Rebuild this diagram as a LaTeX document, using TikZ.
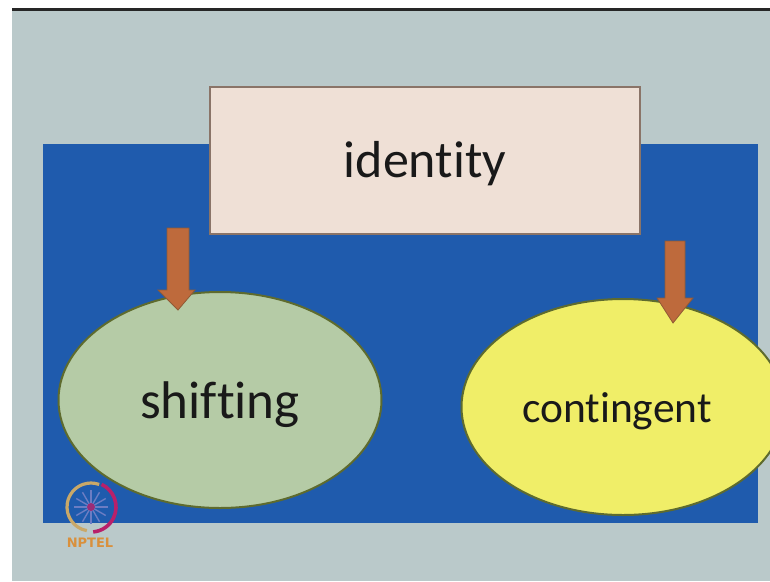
\documentclass[tikz,border=0pt]{standalone}
\usepackage{fontspec}
\setmainfont[Ligatures=NoCommon]{Carlito}
\newfontfamily\logofont{DejaVu Sans}
\usetikzlibrary{shapes.geometric}
\definecolor{slidebg}{HTML}{BAC9CA}
\definecolor{panel}{HTML}{1F5BAD}
\definecolor{boxfill}{HTML}{EFE0D6}
\definecolor{boxline}{HTML}{8A7468}
\definecolor{greenfill}{HTML}{B5CBA6}
\definecolor{yellowfill}{HTML}{F0EE68}
\definecolor{ovalline}{HTML}{5E6B2E}
\definecolor{arrowfill}{HTML}{BE6A3C}
\definecolor{arrowline}{HTML}{8F5A35}
\definecolor{logoorange}{HTML}{D9903C}
\definecolor{logopink}{HTML}{B8206A}
\definecolor{logotan}{HTML}{C9A868}
\definecolor{logospoke}{HTML}{7F86C8}
\tikzset{
  oval/.style={ellipse,draw=ovalline,line width=2pt,inner sep=0pt,text=black!90},
  blockarrow/.style={fill=arrowfill,draw=arrowline,line width=0.8pt,line join=miter},
}
\begin{document}
\begin{tikzpicture}[x=1pt,y=-1pt]
\useasboundingbox (0,0) rectangle (770,581);
\fill[white] (0,0) rectangle (770,581);
\fill[slidebg] (12,10) rectangle (770,581);
\fill[black!85] (12,8) rectangle (770,11);
\fill[panel] (43,144) rectangle (758,523);
\node[draw=boxline,fill=boxfill,line width=1.6pt,minimum width=430pt,minimum height=147pt,inner sep=0pt,font=\fontsize{52}{56}\selectfont,text=black!90] (identity) at (425,160.5) {\raisebox{-16.5pt}[0pt][0pt]{identity}};
\node[oval,fill=greenfill,minimum width=323pt,minimum height=216pt,font=\fontsize{53}{56}\selectfont] (shifting) at (220,400) {\raisebox{-18pt}[0pt][0pt]{shifting}};
\node[oval,fill=yellowfill,minimum width=323pt,minimum height=216pt,font=\fontsize{43.5}{46}\selectfont] (contingent) at (623,407) {\hspace*{-12pt}\raisebox{-15pt}[0pt][0pt]{contingent}};
\coordinate (a1) at (178,228);
\coordinate (a2) at (675,241);
\draw[blockarrow] ([xshift=-11pt]a1) -- ++(22,0) -- ++(0,62) -- ++(6,0) -- ++(-17,20) -- ++(-20,-20) -- ++(9,0) -- cycle;
\draw[blockarrow] ([xshift=-10pt]a2) -- ++(20,0) -- ++(0,57) -- ++(8,0) -- ++(-20,25) -- ++(-16,-25) -- ++(8,0) -- cycle;
% logo
\coordinate (logo) at (91,507);
\draw[logotan,line width=3.2pt] (logo) ++(100:24) arc (100:290:24);
\draw[logopink,line width=3.6pt] (logo) ++(-65:25) arc (-65:85:25);
\foreach \a in {0,30,...,330}{\draw[logospoke!80!panel,line width=1.4pt] (logo) -- ++(\a:17);}
\fill[logopink!80!panel] (logo) circle (4);
\node[text=logoorange,font=\logofont\bfseries\fontsize{13}{14}\selectfont,inner sep=0pt] (nptel) at (90,543) {NPTEL};
\end{tikzpicture}
\end{document}
